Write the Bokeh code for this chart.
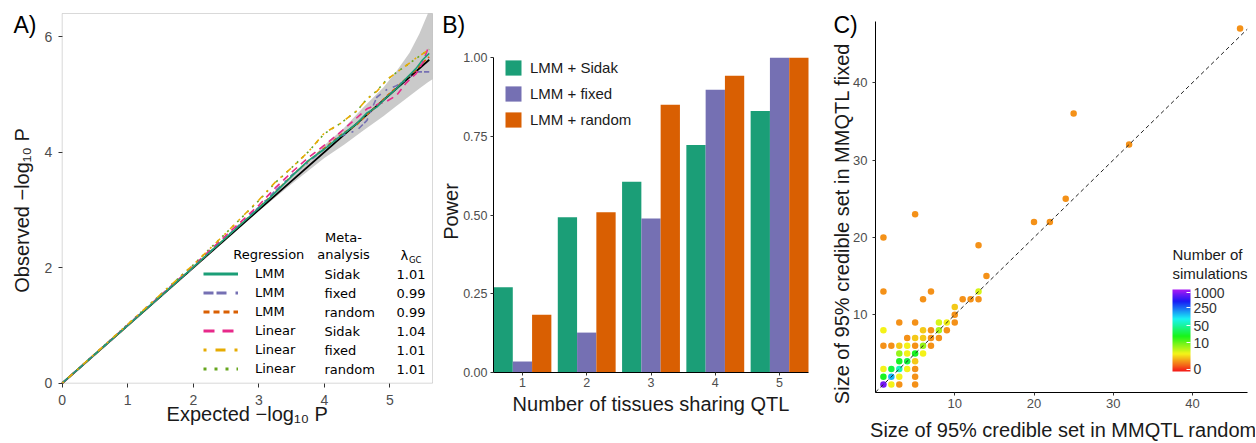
import colorsys
import numpy as np
from bokeh.plotting import figure
from bokeh.layouts import row
from bokeh.models import (ColumnDataSource, Label, Legend, LegendItem, FixedTicker, Range1d,
                          ColorBar, LinearColorMapper, BoxAnnotation, PrintfTickFormatter)
from bokeh.transform import dodge
from bokeh.embed import file_html
from bokeh.resources import INLINE

# ---------------- Panel A: QQ plot ----------------
expected = [0, 1, 2, 2.5, 3, 3.25, 3.5, 3.75, 4, 4.25, 4.5, 4.65, 4.8, 4.95, 5.1, 5.25, 5.4, 5.5, 5.6]
obs_lmm_sidak = [0, 1.0, 2.01, 2.52, 3.03, 3.3, 3.58, 3.85, 4.05, 4.28, 4.5, 4.68, 4.78, 4.95, 5.1, 5.28, 5.45, 5.6, 5.71]
obs_lmm_fixed = [0, 1.0, 2.01, 2.53, 3.05, 3.33, 3.6, 3.82, 4.06, 4.28, 4.38, 4.55, 4.95, 5.08, 5.15, 5.25, 5.39, 5.39, 5.39]
obs_lmm_random = [0, 1.0, 2.01, 2.52, 3.04, 3.31, 3.59, 3.84, 4.07, 4.3, 4.48, 4.65, 4.8, 4.97, 5.12, 5.28, 5.42, 5.55, 5.65]
obs_lin_sidak = [0, 1.01, 2.03, 2.56, 3.08, 3.38, 3.65, 3.9, 4.12, 4.35, 4.6, 4.75, 4.82, 4.88, 4.98, 5.2, 5.36, 5.55, 5.85]
obs_lin_fixed = [0, 1.02, 2.05, 2.6, 3.17, 3.48, 3.73, 4.0, 4.33, 4.5, 4.72, 4.92, 5.05, 5.25, 5.38, 5.5, 5.63, 5.7, 5.78]
obs_lin_random = [0, 1.02, 2.05, 2.6, 3.16, 3.47, 3.73, 4.0, 4.32, 4.5, 4.72, 4.92, 5.06, 5.25, 5.38, 5.5, 5.62, 5.7, 5.78]
null_line = [0.0, 5.6]
band_x = [3.0, 3.5, 4.0, 4.3, 4.6, 4.9, 5.1, 5.3, 5.45, 5.58, 5.65]
band_lo = [2.98, 3.45, 3.9, 4.13, 4.38, 4.62, 4.8, 4.97, 5.1, 5.21, 5.26]
band_hi = [3.02, 3.56, 4.12, 4.42, 4.78, 5.12, 5.4, 5.72, 6.05, 6.4, 6.4]
regression = ["LMM", "LMM", "LMM", "Linear", "Linear", "Linear"]
meta_analysis = ["Sidak", "fixed", "random", "Sidak", "fixed", "random"]
lambda_gc = ["1.01", "0.99", "0.99", "1.04", "1.01", "1.01"]

# ---------------- Panel B: power ----------------
n_tissues = [1, 2, 3, 4, 5]
power_sidak = [0.27, 0.493, 0.606, 0.723, 0.831]
power_fixed = [0.034, 0.126, 0.489, 0.898, 1.0]
power_random = [0.183, 0.509, 0.851, 0.943, 1.0]
methods = ["LMM + Sidak", "LMM + fixed", "LMM + random"]

# ---------------- Panel C: credible set sizes ----------------
cs_random = [46, 25, 32, 5, 1, 20, 22, 24, 13, 14, 1, 7, 13, 6, 11, 12, 13, 10, 10,
             3, 5, 8, 9, 10, 1, 6, 7, 8, 9, 4, 5, 6, 7, 8, 1, 2, 3, 4, 5, 6, 7,
             3, 4, 5, 6, 3, 4, 5, 1, 2, 3, 4, 5, 1, 2, 3, 5, 1, 2, 3, 5]
cs_fixed = [47, 36, 32, 23, 20, 22, 22, 25, 19, 15, 13, 13, 13, 12, 12, 12, 12, 11, 10,
            9, 9, 9, 9, 9, 8, 8, 8, 8, 8, 7, 7, 7, 7, 7, 6, 6, 6, 6, 6, 6, 6,
            5, 5, 5, 5, 4, 4, 4, 3, 3, 3, 3, 3, 2, 2, 2, 2, 1, 1, 1, 1]
n_sims = [1, 1, 1, 1, 1, 1, 1, 1, 1, 1, 1, 1, 4, 1, 1, 1, 1, 2, 1,
          1, 1, 4, 3, 1, 3, 2, 1, 6, 1, 1, 2, 2, 1, 1, 1, 1, 2, 3, 1, 7, 1,
          7, 3, 20, 3, 20, 25, 2, 3, 25, 60, 3, 1, 20, 150, 3, 1, 900, 3, 1, 1]
diag_line = [0.0, 46.9]
sim_breaks = [0, 10, 50, 250, 1000]

DARK2 = ["#1b9e77", "#7570b3", "#d95f02", "#e7298a", "#e6ab02", "#66a61e"]
SANS = "Liberation Sans"
TICK_TXT = "#4d4d4d"
TICK_LN = "#333333"
TITLE_C = "#1a1a1a"
H = 442
BL = 7  # baseline correction for alphabetic-baseline labels


def xr(v0, p0, v1, p1, size):
    s = (p1 - p0) / (v1 - v0)
    return Range1d(v0 - p0 / s, v0 + (size - p0) / s)


def yr(v0, p0, v1, p1, size):
    s = (p0 - p1) / (v1 - v0)
    return Range1d(v0 - (size - p0) / s, v0 + p0 / s)


def add_text(p, text, x, y, size, font=SANS, align="left", baseline="middle", angle=0.0, color="black"):
    p.add_layout(Label(x=x, y=y, x_units="screen", y_units="screen", text=text,
                       text_font=font, text_font_size=f"{size}px", text_align=align,
                       text_baseline=baseline, angle=angle, text_color=color))


def title_h(p, text, x, base_y, size=20, align="center"):
    add_text(p, text, x, H - base_y + BL, size, align=align, baseline="alphabetic", color=TITLE_C)


def title_v(p, text, base_x, cy, size=20):
    add_text(p, text, base_x - BL, H - cy, size, align="center", baseline="alphabetic",
             angle=np.pi / 2, color=TITLE_C)


def panel_tag(p, text, x, cy):
    add_text(p, text, x, H - cy, 23, align="left", baseline="middle", color="black")


def make_fig(width, x_range, y_range):
    p = figure(width=width, height=H, x_range=x_range, y_range=y_range,
               output_backend="svg", toolbar_location=None, min_border=0)
    p.outline_line_color = None
    p.xgrid.visible = False
    p.ygrid.visible = False
    return p


def style_axes(p, size, tick_len, sx, sy, axis_line, xloc, yloc, xb, yb):
    for ax in (p.xaxis[0], p.yaxis[0]):
        ax.major_label_text_font = SANS
        ax.major_label_text_font_size = f"{size}px"
        ax.major_label_text_color = TICK_TXT
        ax.major_tick_line_color = TICK_LN
        ax.major_tick_out = tick_len
        ax.major_tick_in = 0
        ax.minor_tick_line_color = None
        ax.axis_line_color = axis_line
    p.xaxis[0].major_label_standoff = sx
    p.yaxis[0].major_label_standoff = sy
    p.xaxis[0].fixed_location = xloc
    p.yaxis[0].fixed_location = yloc
    p.xaxis[0].bounds = xb
    p.yaxis[0].bounds = yb


# ================= Panel A =================
pA = make_fig(440, xr(0, 61.7, 5.65, 432, 440), yr(0, 382.7, 6.4, 13, H))
style_axes(pA, 14, 4, 8, 6, None, 0, 0, (0, 5.65), (0, 6.4))
pA.xaxis.ticker = FixedTicker(ticks=[0, 1, 2, 3, 4, 5])
pA.yaxis.ticker = FixedTicker(ticks=[0, 2, 4, 6])

pA.varea(x=band_x, y1=band_lo, y2=band_hi, fill_color="#c4c4c4", fill_alpha=0.9)
pA.line(null_line, null_line, line_color="black", line_width=1.8)

series = [obs_lmm_sidak, obs_lmm_fixed, obs_lmm_random, obs_lin_sidak, obs_lin_fixed, obs_lin_random]
plot_dash = ["solid", "6 2 6 6 2 6", "4 3", "7 5", "2 6 6 6", "2 5"]
key_dash = ["solid", "10 3 10 9 3 9", "6 4", "11 8", "3 9 10 9", "3 8"]
for i in [5, 2, 1, 3, 0, 4]:
    pA.line(expected, series[i], line_color=DARK2[i], line_width=1.6, line_dash=plot_dash[i])
pA.add_layout(BoxAnnotation(left=0, right=5.65, bottom=0, top=6.4, fill_alpha=0,
                            line_color="#808080", line_width=1))

# legend key renderers: same series, mapped to an off-screen range so only the legend shows them
pA.extra_y_ranges = {"keys": Range1d(1000, 1001)}
key_renderers = [pA.line(expected, series[i], y_range_name="keys", line_color=DARK2[i],
                         line_width=2.8, line_dash=key_dash[i]) for i in range(6)]
legA = Legend(items=[LegendItem(label=regression[i], renderers=[key_renderers[i]]) for i in range(6)],
              location=(203, 65), glyph_width=35, glyph_height=17, label_height=17, spacing=2,
              label_standoff=17, padding=0, margin=0, background_fill_alpha=0, border_line_alpha=0,
              label_text_font="DejaVu Sans", label_text_font_size="13px", label_text_color="black")
pA.add_layout(legA)

LF = "DejaVu Sans"
add_text(pA, "Regression", 268.3, 188, 13, font=LF, align="center")
add_text(pA, "Meta-", 343, 205.3, 13, font=LF, align="center")
add_text(pA, "analysis", 343, 188, 13, font=LF, align="center")
add_text(pA, "λ", 400, 187, 13, font=LF)
add_text(pA, "GC", 408.5, 183, 8.5, font=LF)
for i in range(6):
    yy = 168.3 - 19 * i
    add_text(pA, meta_analysis[i], 324, yy, 13, font=LF)
    add_text(pA, lambda_gc[i], 425, yy, 13, font=LF, align="right")

panel_tag(pA, "A)", 13, 24)
title_h(pA, "Expected \u2212log\u2081\u2080 P", 246.7, 420)
title_v(pA, "Observed \u2212log\u2081\u2080 P", 28.5, 210)

# ================= Panel B =================
pB = make_fig(388, xr(0.55, 53, 5.45, 368, 388), yr(0, 371.7, 1.0, 57.3, H))
style_axes(pB, 12.5, 3, 3, 3, "black", 0, 0.55, (0.55, 5.45), (0, 1))
pB.xaxis.ticker = FixedTicker(ticks=n_tissues)
pB.yaxis.ticker = FixedTicker(ticks=[0, 0.25, 0.5, 0.75, 1.0])
pB.yaxis.formatter = PrintfTickFormatter(format="%.2f")

srcB = ColumnDataSource(dict(x=n_tissues, sidak=power_sidak, fixed=power_fixed, random=power_random))
rb = []
for off, col, c in [(-0.3, "sidak", DARK2[0]), (0.0, "fixed", DARK2[1]), (0.3, "random", DARK2[2])]:
    rb.append(pB.vbar(x=dodge("x", off), top=col, width=0.3, source=srcB,
                      fill_color=c, line_color=None))
legB = Legend(items=[LegendItem(label=methods[i], renderers=[rb[i]]) for i in range(3)],
              location=(63, 313), glyph_width=20, glyph_height=19, label_height=19, spacing=7,
              label_standoff=7, padding=0, margin=0, background_fill_alpha=0, border_line_alpha=0,
              label_text_font=SANS, label_text_font_size="15px", label_text_color=TITLE_C)
pB.add_layout(legB)
panel_tag(pB, "B)", 1.7, 24)
title_h(pB, "Number of tissues sharing QTL", 210.5, 410.7)
title_v(pB, "Power", 17.6, 211)

# ================= Panel C =================
pC = make_fig(427, xr(0, 47, 46.9, 418.7, 427), yr(0, 391.7, 47.9, 21, H))
style_axes(pC, 13, 3, 4, 5, "black", 0, 0, (0, 46.9), (0, 47.9))
pC.xaxis.ticker = FixedTicker(ticks=[10, 20, 30, 40])
pC.yaxis.ticker = FixedTicker(ticks=[10, 20, 30, 40])

pal = []
for i in range(256):
    r, g, b = colorsys.hsv_to_rgb((280 / 360) * i / 255, 0.9, 0.96)
    pal.append("#%02x%02x%02x" % (int(r * 255), int(g * 255), int(b * 255)))
mapper = LinearColorMapper(palette=pal, low=-0.08, high=3.12)
srcC = ColumnDataSource(dict(x=cs_random, y=cs_fixed, n=n_sims,
                             lc=list(np.log10(np.array(n_sims, dtype=float) + 1))))
pC.scatter("x", "y", source=srcC, size=6.5, fill_color={"field": "lc", "transform": mapper}, line_color=None)
pC.line(diag_line, diag_line, line_color="#222222", line_dash="4 3", line_width=1)

ticks = [float(np.log10(v + 1)) for v in sim_breaks]
cb = ColorBar(color_mapper=mapper, location=(344, 71), width=18, height=82, padding=0, margin=0,
              ticker=FixedTicker(ticks=ticks),
              major_label_overrides={t: str(v) for t, v in zip(ticks, sim_breaks)},
              major_tick_line_color="white", major_tick_in=4, major_tick_out=0, label_standoff=3,
              major_label_text_font=SANS, major_label_text_font_size="14px",
              major_label_text_color="#333333",
              background_fill_alpha=0, bar_line_color=None, border_line_color=None)
pC.add_layout(cb)
add_text(pC, "Number of", 344, 188, 15, color=TITLE_C)
add_text(pC, "simulations", 344, 169.3, 15, color=TITLE_C)
panel_tag(pC, "C)", 5, 24)
title_h(pC, "Size of 95% credible set in MMQTL random", 235, 436)
title_v(pC, "Size of 95% credible set in MMQTL fixed", 20.5, 223)

layout = row(pA, pB, pC)
open("out.html", "w").write(file_html(layout, INLINE))
